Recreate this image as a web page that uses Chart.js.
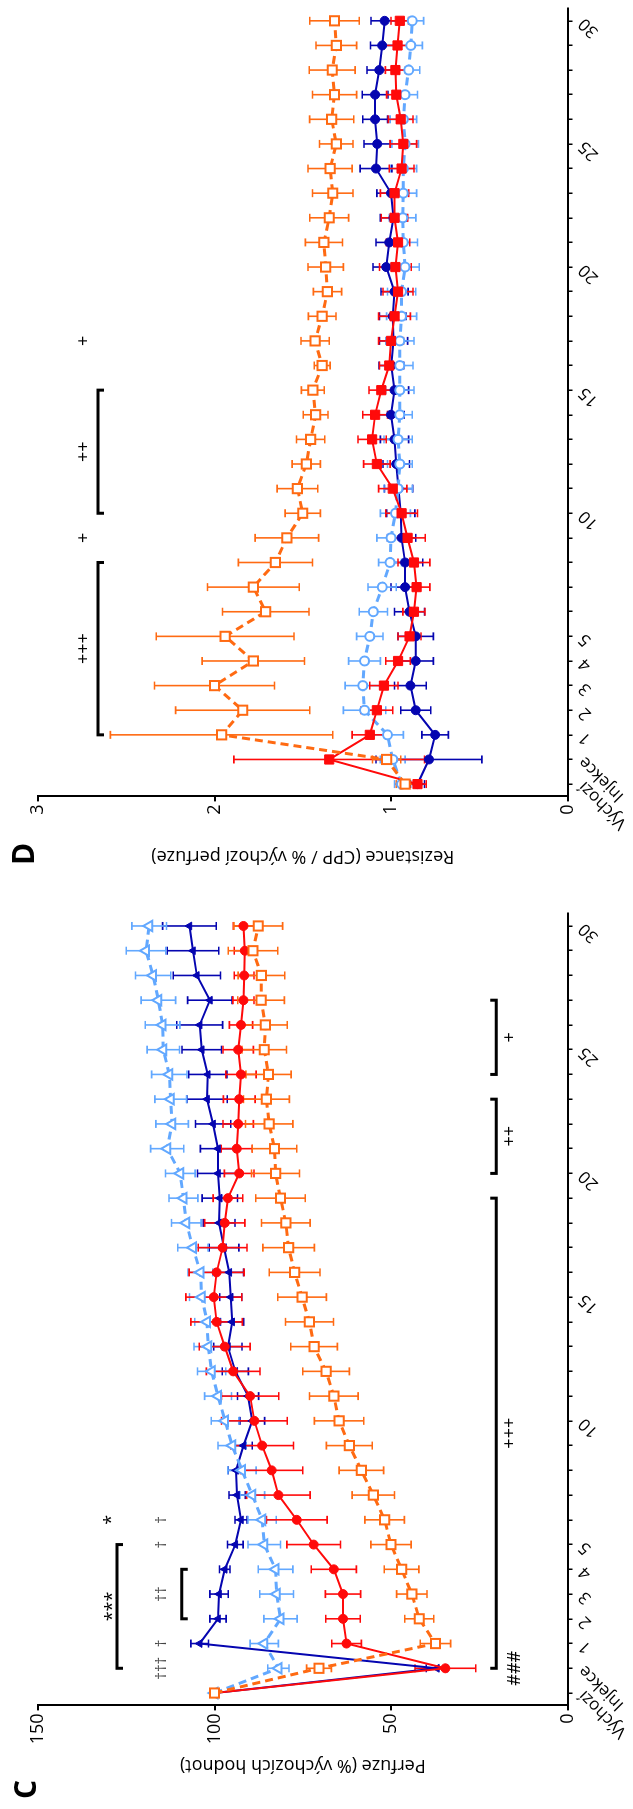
<!DOCTYPE html>
<html>
<head>
<meta charset="utf-8">
<script src="https://cdn.jsdelivr.net/npm/chart.js@4.4.1/dist/chart.umd.min.js"></script>
<style>
  html, body { margin: 0; padding: 0; background: #fff; width: 633px; height: 1809px; overflow: hidden; }
  /* both panels are laid out side by side, then the whole sheet is turned a quarter left */
  #sheet { position: absolute; left: 0; top: 0; width: 1809px; height: 633px;
           transform-origin: 0 0; transform: translateY(1809px) rotate(-90deg); }
  #sheet canvas { position: absolute; top: 0; }
  #chartC { left: 0; }
  #chartD { left: 909px; }
</style>
</head>
<body>
<div id="sheet">
  <canvas id="chartC" width="905" height="633"></canvas>
  <canvas id="chartD" width="900" height="633"></canvas>
</div>
<script>
// categories (time points)
const labels = ['Výchozí', 'Injekce', '1', '2', '3', '4', '5', '6', '7', '8', '9', '10',
  '11', '12', '13', '14', '15', '16', '17', '18', '19', '20',
  '21', '22', '23', '24', '25', '26', '27', '28', '29', '30'];
const shownLabels = ['Výchozí', 'Injekce', '1', '2', '3', '4', '5', '10', '15', '20', '25', '30'];

// Panel C - perfuze (% of baseline)
const cBlue = [100, 37, 104.2, 99.0, 98.7, 97.1, 94.1, 92.5, 93.6, 93.9, 91.8, 89.3, 90.5, 94.1, 96.2, 95.0,
  95.4, 95.8, 97.3, 98.7, 98.5, 99.0, 99.0, 100.4, 102.1, 101.9, 103.6, 104.2, 101.3, 105.0, 106.1, 107.1];
const cBlueErr = [0, 3, 2.5, 2.3, 2.6, 1.5, 2.2, 1.7, 2.3, 2.2, 2.5, 3.5, 3, 3.7, 4, 3.3,
  3.1, 4, 4.2, 4.5, 5, 5.8, 5, 5, 5.7, 5.4, 5.6, 6.5, 6.3, 6.7, 7.3, 7.6];
const cLight = [100, 81.9, 85.9, 81.3, 82.4, 82.7, 85.9, 86.5, 89.3, 92.2, 95.0, 97.0, 99.0, 100.8, 101.8, 102.1,
  103.6, 104.0, 106.1, 108.0, 108.8, 109.7, 113.4, 112.0, 112.4, 112.8, 114.5, 114.7, 115.9, 117.4, 119.4, 118.5];
const cLightErr = [0, 3, 4, 4.7, 4.8, 4.9, 4.6, 4, 3.5, 4, 4, 3.9, 3.8, 4, 4, 3.5,
  3.5, 3.5, 4.3, 4.2, 4.1, 4.2, 4.7, 4.6, 4.5, 5, 4.6, 4.9, 4.9, 5, 5.6, 4.9];
const cRed = [100, 34.6, 62.6, 63.6, 63.6, 66.2, 71.9, 76.7, 81.9, 83.8, 86.5, 88.7, 89.9, 94.7, 97.1, 99.4,
  100.2, 99.4, 97.7, 97.1, 96.2, 93.0, 93.7, 93.3, 93.0, 92.5, 93.3, 92.5, 91.8, 91.6, 91.4, 91.8];
const cRedErr = [0, 8.6, 4.2, 4.9, 5.0, 6.4, 7.6, 8.6, 9, 8.8, 8.9, 9.3, 8.1, 7.6, 7.2, 7.3,
  7.9, 7.8, 6.9, 5.7, 4.2, 4.2, 4.4, 4.3, 4.5, 4.3, 4.3, 3.3, 3, 2.8, 3, 2.9];
const cOrange = [100, 70.4, 37.4, 42.0, 44.1, 47.0, 50.0, 51.8, 55.0, 58.4, 61.8, 64.7, 66.2, 68.4, 71.8, 73.1,
  75.2, 77.3, 79.0, 79.8, 81.3, 82.7, 83.0, 84.5, 85.3, 84.7, 85.9, 85.6, 86.8, 86.7, 89.1, 87.6];
const cOrangeErr = [0, 3.5, 4.3, 4.1, 4.3, 4.9, 5.7, 5.6, 6, 6.3, 6.5, 7, 6.9, 6.6, 6.6, 6.8,
  6.9, 7.2, 7.3, 6.9, 7, 6.8, 6.3, 6.7, 6.5, 6.4, 6.3, 6.2, 6.6, 6.6, 7, 6.9];
const cTicks = [0, 50, 100, 150];

// Panel C significance marks (category index, value)
const cStars = [{ text: '***', at: 3.5, v: 128.8 }, { text: '*', at: 7, v: 129.2 }];
const cDaggers = [{ text: '†††', at: 1, v: 115 }, { text: '†', at: 2, v: 115 }, { text: '††', at: 4, v: 115 },
  { text: '†', at: 6, v: 115 }, { text: '†', at: 7, v: 115 }];
const cBelow = [{ text: '###', at: 1, v: 14.8 }, { text: '+++', at: 10.5, v: 16.2 },
  { text: '++', at: 22.5, v: 16.2 }, { text: '+', at: 26.5, v: 16.2 }];
const cBrackets = [{ from: 1, to: 6, v: 127.6, down: true }, { from: 3, to: 5, v: 109.3, down: true },
  { from: 1, to: 20, v: 20.2, down: false }, { from: 21, to: 24, v: 20.2, down: false },
  { from: 25, to: 28, v: 20.2, down: false }];

// Panel D - rezistance (CPP / % baseline perfuze)
const dOrange = [0.92, 1.025, 1.96, 1.84, 2.0, 1.78, 1.94, 1.71, 1.78, 1.655, 1.59, 1.5, 1.53, 1.48, 1.455, 1.427,
  1.443, 1.39, 1.43, 1.39, 1.36, 1.37, 1.38, 1.35, 1.33, 1.345, 1.31, 1.336, 1.32, 1.333, 1.31, 1.32];
const dOrangeErr = [0.05, 0.08, 0.63, 0.38, 0.34, 0.29, 0.39, 0.245, 0.26, 0.21, 0.18, 0.1, 0.115, 0.08, 0.08, 0.07,
  0.065, 0.045, 0.08, 0.078, 0.08, 0.1, 0.105, 0.11, 0.115, 0.125, 0.095, 0.125, 0.125, 0.13, 0.115, 0.14];
const dLight = [0.94, 0.99, 1.02, 1.15, 1.16, 1.15, 1.12, 1.10, 1.05, 1.005, 1.0, 0.975, 0.96, 0.95, 0.96, 0.95,
  0.95, 0.95, 0.95, 0.94, 0.94, 0.92, 0.93, 0.934, 0.93, 0.93, 0.92, 0.93, 0.92, 0.9, 0.888, 0.88];
const dLightErr = [0.04, 0.07, 0.09, 0.12, 0.1, 0.09, 0.075, 0.08, 0.08, 0.065, 0.08, 0.085, 0.08, 0.07, 0.08, 0.07,
  0.08, 0.075, 0.08, 0.085, 0.08, 0.08, 0.08, 0.075, 0.075, 0.075, 0.075, 0.075, 0.07, 0.063, 0.066, 0.065];
const dBlue = [0.85, 0.785, 0.75, 0.86, 0.89, 0.86, 0.86, 0.895, 0.92, 0.92, 0.94, 0.945, 0.957, 0.97, 0.98, 1.0,
  0.98, 0.998, 0.986, 0.99, 0.98, 1.027, 1.01, 0.986, 1.0, 1.085, 1.078, 1.09, 1.09, 1.066, 1.05, 1.036];
const dBlueErr = [0.04, 0.30, 0.075, 0.085, 0.09, 0.1, 0.1, 0.085, 0.08, 0.1, 0.08, 0.08, 0.08, 0.075, 0.08, 0.075,
  0.08, 0.07, 0.08, 0.075, 0.077, 0.075, 0.075, 0.075, 0.08, 0.09, 0.075, 0.07, 0.073, 0.07, 0.066, 0.077];
const dRed = [0.85, 1.35, 1.12, 1.08, 1.04, 0.96, 0.895, 0.87, 0.855, 0.87, 0.906, 0.94, 0.99, 1.08, 1.107, 1.09,
  1.055, 1.01, 1.0, 0.98, 0.96, 0.975, 0.96, 0.98, 0.98, 0.94, 0.93, 0.945, 0.97, 0.975, 0.963, 0.95];
const dRedErr = [0.05, 0.54, 0.1, 0.09, 0.08, 0.07, 0.065, 0.063, 0.075, 0.09, 0.1, 0.09, 0.08, 0.075, 0.08, 0.07,
  0.07, 0.055, 0.07, 0.09, 0.085, 0.09, 0.066, 0.075, 0.08, 0.07, 0.075, 0.07, 0.055, 0.057, 0.075, 0.05];
const dTicks = [0, 1, 2, 3];

const dAbove = [{ text: '+++', at: 5.5, v: 2.74 }, { text: '+', at: 10, v: 2.74 },
  { text: '++', at: 13.5, v: 2.74 }, { text: '+', at: 18, v: 2.74 }];
const dBrackets = [{ from: 2, to: 9, v: 2.66, down: true }, { from: 11, to: 16, v: 2.66, down: true }];

const FONT = '"Open Sans", "Liberation Sans", sans-serif';
const DARK_BLUE = '#0505b0';
const LIGHT_BLUE = '#62a8ff';
const RED = '#ff0a0a';
const ORANGE = '#ff6a12';

// vertical error bars under the markers
const errorBars = {
  id: 'errorBars',
  beforeDatasetsDraw(chart) {
    const ctx = chart.ctx;
    const xs = chart.scales.x, ys = chart.scales.y;
    for (let i = chart.data.datasets.length - 1; i >= 0; i--) {
      const ds = chart.data.datasets[i];
      if (!ds.errors) continue;
      ctx.save();
      ctx.strokeStyle = ds.borderColor;
      ctx.lineWidth = 1.6;
      ds.data.forEach((v, j) => {
        const e = ds.errors[j];
        if (!e) return;
        const px = xs.getPixelForValue(j);
        const top = ys.getPixelForValue(v + e);
        const bot = ys.getPixelForValue(v - e);
        ctx.beginPath();
        ctx.moveTo(px, top); ctx.lineTo(px, bot);
        ctx.moveTo(px - 4, top); ctx.lineTo(px + 4, top);
        ctx.moveTo(px - 4, bot); ctx.lineTo(px + 4, bot);
        ctx.stroke();
      });
      ctx.restore();
    }
  }
};

// brackets and significance symbols
const marks = {
  id: 'marks',
  afterDatasetsDraw(chart, args, opts) {
    const ctx = chart.ctx;
    const xs = chart.scales.x, ys = chart.scales.y;
    ctx.save();
    ctx.strokeStyle = '#000';
    ctx.lineWidth = 3;
    (opts.brackets || []).forEach(b => {
      const x0 = xs.getPixelForValue(b.from), x1 = xs.getPixelForValue(b.to);
      const py = ys.getPixelForValue(b.v);
      const d = b.down ? 6 : -6;
      ctx.beginPath();
      ctx.moveTo(x0, py + d); ctx.lineTo(x0, py); ctx.lineTo(x1, py); ctx.lineTo(x1, py + d);
      ctx.stroke();
    });
    ctx.textAlign = 'center';
    ctx.textBaseline = 'middle';
    ctx.fillStyle = '#000';
    ctx.font = '18px ' + FONT;
    (opts.labels || []).forEach(l => {
      ctx.fillText(l.text, xs.getPixelForValue(l.at), ys.getPixelForValue(l.v));
    });
    ctx.fillStyle = '#444';
    ctx.font = '15px ' + FONT;
    (opts.daggers || []).forEach(l => {
      ctx.fillText(l.text, xs.getPixelForValue(l.at), ys.getPixelForValue(l.v));
    });
    ctx.restore();
  }
};

// panel letter in the top left corner
const panelLetter = {
  id: 'panelLetter',
  afterDraw(chart, args, opts) {
    const ctx = chart.ctx;
    ctx.save();
    ctx.fillStyle = '#000';
    ctx.font = 'bold 30px ' + FONT;
    ctx.textAlign = 'left';
    ctx.textBaseline = 'alphabetic';
    ctx.fillText(opts.text, opts.x, opts.y);
    ctx.restore();
  }
};

function series(data, errors, color, style, radius, open, dashed) {
  return {
    data: data,
    errors: errors,
    borderColor: color,
    backgroundColor: open ? '#fff' : color,
    borderWidth: dashed ? 3 : 2,
    borderDash: dashed ? [8, 5] : [],
    pointStyle: style,
    pointRadius: radius,
    pointBorderWidth: open ? 2 : 1,
    pointBackgroundColor: open ? '#fff' : color,
    pointBorderColor: color,
    tension: 0,
    fill: false
  };
}

function makeOptions(yMax, yTicks, yTitle, markOpts, letter, rightPad) {
  return {
    responsive: false,
    animation: false,
    layout: { padding: { top: 38, right: rightPad, left: 0, bottom: 0 } },
    plugins: {
      legend: { display: false },
      tooltip: { enabled: false },
      marks: markOpts,
      panelLetter: letter
    },
    scales: {
      x: {
        type: 'category',
        offset: true,
        grid: { display: true, drawOnChartArea: false, drawTicks: true, tickLength: 5, color: '#000', lineWidth: 1.5 },
        border: { display: true, color: '#000', width: 2 },
        ticks: {
          autoSkip: false, minRotation: 45, maxRotation: 45, padding: 2,
          color: '#000', font: { family: FONT, size: 17 },
          callback: (v, i) => shownLabels.includes(labels[i]) ? labels[i] : ''
        },
        afterFit: s => { s.height = 65.5; s.paddingLeft = 0; s.paddingRight = 0; }
      },
      y: {
        min: 0,
        max: yMax,
        afterBuildTicks: s => { s.ticks = yTicks.map(v => ({ value: v })); },
        grid: { display: true, drawOnChartArea: false, drawTicks: true, tickLength: 5, color: '#000', lineWidth: 2 },
        border: { display: true, color: '#000', width: 2 },
        ticks: { color: '#000', padding: 3, font: { family: FONT, size: 18 } },
        title: { display: true, text: yTitle, color: '#000', font: { family: FONT, size: 18 }, padding: { top: 33, bottom: 0 } },
        afterFit: s => { s.width = 103.6; }
      }
    }
  };
}

new Chart(document.getElementById('chartC'), {
  type: 'line',
  data: {
    labels: labels,
    datasets: [
      series(cOrange, cOrangeErr, ORANGE, 'rect', 6.5, true, true),
      series(cRed, cRedErr, RED, 'circle', 4.5, false, false),
      series(cLight, cLightErr, LIGHT_BLUE, 'triangle', 6, true, true),
      series(cBlue, cBlueErr, DARK_BLUE, 'triangle', 4.5, false, false)
    ]
  },
  options: makeOptions(150, cTicks, 'Perfuze (% výchozích hodnot)',
    { brackets: cBrackets, labels: cStars.concat(cBelow), daggers: cDaggers },
    { text: 'C', x: 10, y: 36 }, 9.6),
  plugins: [errorBars, marks, panelLetter]
});

new Chart(document.getElementById('chartD'), {
  type: 'line',
  data: {
    labels: labels,
    datasets: [
      series(dOrange, dOrangeErr, ORANGE, 'rect', 6.5, true, true),
      series(dRed, dRedErr, RED, 'rect', 6.5, false, false),
      series(dLight, dLightErr, LIGHT_BLUE, 'circle', 4.5, true, true),
      series(dBlue, dBlueErr, DARK_BLUE, 'circle', 4.5, false, false)
    ]
  },
  options: makeOptions(3, dTicks, 'Rezistance (CPP / % výchozí perfuze)',
    { brackets: dBrackets, labels: dAbove, daggers: [] },
    { text: 'D', x: 35, y: 34 }, 2.6),
  plugins: [errorBars, marks, panelLetter]
});
</script>
</body>
</html>
